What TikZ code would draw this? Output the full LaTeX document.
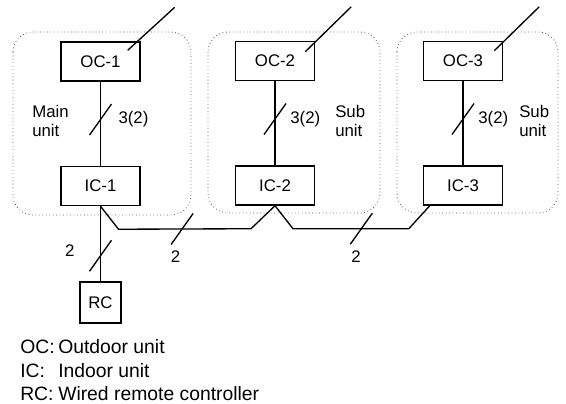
\documentclass[tikz,border=0pt]{standalone}
\usepackage{fontspec}
\setmainfont{Liberation Sans}
\begin{document}
\begin{tikzpicture}[x=0.75pt,y=-0.75pt]
  \tikzset{devbox/.style={draw, line width=1.1pt, minimum width=59.25pt, minimum height=29.25pt, inner sep=0pt, font=\fontsize{12.6}{14.25}\selectfont},
    wire/.style={line width=1pt},
    group/.style={draw=black!65, dotted, line width=0.6pt, rounded corners=15pt},
    lbl/.style={inner sep=0pt, font=\fontsize{12.6}{14.25}\selectfont},
    cut/.pic={\draw[line width=1pt] (-11,15.5) -- (11,-15.5);}}
  \useasboundingbox (0,0) rectangle (566,403);
  % unit groups
  \draw[group] (13,32) rectangle (191,215);
  \draw[group] (208,32) rectangle (380,213);
  \draw[group] (397,32) rectangle (558,213);
  % devices
  \node[devbox] (oc1) at (100.5,61.5) {OC-1};
  \node[devbox] (ic1) at (100.5,186) {IC-1};
  \node[devbox] (oc2) at (275,61) {OC-2};
  \node[devbox] (ic2) at (275,185.5) {IC-2};
  \node[devbox] (oc3) at (463,61) {OC-3};
  \node[devbox] (ic3) at (463,185.5) {IC-3};
  \node[devbox, minimum width=30.75pt, minimum height=30.75pt] (rc) at (100.5,302.5) {RC};
  \node[lbl, anchor=west, align=left] (main) at (32,121) {Main\\unit};
  \node[lbl, anchor=west, align=left] (sub2) at (335,121) {Sub\\unit};
  \node[lbl, anchor=west, align=left] (sub3) at (519,121) {Sub\\unit};
  % outdoor to indoor
  \draw[wire] (oc1) -- pic[pos=.45]{cut} node[lbl, pos=.45, right=13pt]{3(2)} (ic1);
  \draw[wire] (oc2) -- pic[pos=.45]{cut} node[lbl, pos=.45, right=11pt]{3(2)} (ic2);
  \draw[wire] (oc3) -- pic[pos=.45]{cut} node[lbl, pos=.45, right=11pt]{3(2)} (ic3);
  % power supply
  \draw[wire] ([shift={(-13,9)}]oc1.north east) -- ++(47,-43) coordinate (ps1);
  \draw[wire] ([shift={(-10,11)}]oc2.north east) -- ++(46,-45) coordinate (ps2);
  \draw[wire] ([shift={(-9,10)}]oc3.north east) -- ++(45,-44) coordinate (ps3);
  % transmission line
  \draw[wire] (ic1.south) -- ++(18,23) -- pic[pos=.48]{cut} node[lbl, pos=.43, yshift=-21pt]{2} ([shift={(-24,23)}]ic2.south)
    -- (ic2.south) -- ++(18,23) -- pic[pos=.59]{cut} node[lbl, pos=.545, yshift=-21pt]{2} ([shift={(-14,23)}]ic3.south west)
    -- ([xshift=5.25pt]ic3.south west);
  \draw[wire] (ic1.south) -- pic[pos=.66]{cut} node[lbl, pos=.595, left=19pt]{2} (rc.north);
  % legend
  \node[anchor=north west, align=left, inner sep=0pt, font=\fontsize{14.5}{17.6}\selectfont] (legend) at (20,339.5)
    {\makebox[28.5pt][l]{OC:}Outdoor unit\\\makebox[28.5pt][l]{IC:}Indoor unit\\\makebox[28.5pt][l]{RC:}Wired remote controller};
\end{tikzpicture}
\end{document}
